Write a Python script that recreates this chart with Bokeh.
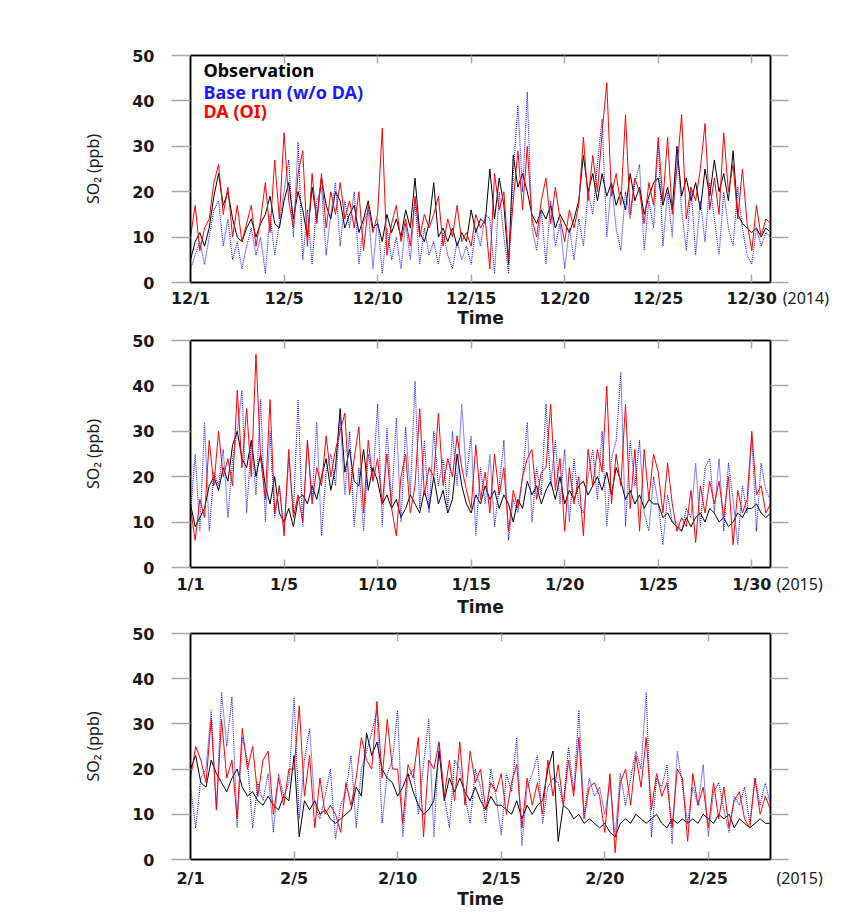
import numpy as np
from bokeh.plotting import figure
from bokeh.models import (Range1d, LinearAxis, FixedTicker, Label,
                          CustomLabelingPolicy)
from bokeh.layouts import column
from bokeh.embed import file_html
from bokeh.resources import INLINE

# ---------------- data (6-hourly samples) ----------------
SAMPLES_PER_DAY = 4

y_ticks = [0, 10, 20, 30, 40, 50]
y_title = "SO\u2082 (ppb)"

dec_days = 31
dec_ticks = [0, 5, 10, 15, 20, 25, 30]
dec_labels = ["12/1", "12/5", "12/10", "12/15", "12/20", "12/25", "12/30"]
dec_year = "(2014)"

jan_days = 31
jan_ticks = [0, 5, 10, 15, 20, 25, 30]
jan_labels = ["1/1", "1/5", "1/10", "1/15", "1/20", "1/25", "1/30"]
jan_year = "(2015)"

feb_days = 28
feb_ticks = [0, 5, 10, 15, 20, 25]
feb_labels = ["2/1", "2/5", "2/10", "2/15", "2/20", "2/25"]
feb_year = "(2015)"

legend_names = ["Observation", "Base run (w/o DA)", "DA (OI)"]

dec_obs = [
    5, 9, 11, 8, 12, 19, 24, 17, 20, 14, 10, 9, 12, 14, 10, 13,
    15, 19, 13, 12, 18, 22, 14, 20, 16, 10, 21, 14, 23, 17, 14, 20,
    18, 12, 15, 17, 11, 14, 18, 12, 13, 9, 15, 11, 14, 10, 16, 12,
    23, 11, 9, 13, 22, 10, 12, 9, 12, 8, 11, 9, 16, 11, 14, 13,
    25, 14, 23, 17, 4, 28, 21, 24, 20, 15, 13, 16, 14, 17, 12, 15,
    13, 11, 14, 18, 28, 20, 24, 18, 24, 19, 22, 17, 20, 16, 24, 18,
    21, 15, 19, 22, 23, 17, 21, 16, 30, 19, 23, 18, 22, 16, 25, 19,
    27, 20, 24, 18, 29, 15, 13, 12, 11, 12, 10, 12, 11]
dec_base = [
    3, 6, 9, 4, 10, 16, 18, 8, 14, 5, 9, 3, 8, 12, 6, 10,
    2, 15, 6, 13, 20, 27, 10, 31, 5, 16, 4, 18, 21, 6, 15, 22,
    8, 18, 12, 20, 4, 13, 16, 3, 14, 2, 12, 5, 10, 3, 13, 5,
    18, 4, 12, 6, 9, 4, 11, 6, 3, 9, 5, 8, 4, 12, 8, 15,
    14, 2, 20, 10, 2, 24, 39, 20, 42, 12, 7, 16, 4, 18, 8, 13,
    3, 12, 5, 14, 8, 20, 15, 26, 36, 10, 22, 12, 7, 20, 14, 22,
    26, 7, 18, 12, 31, 8, 20, 10, 30, 16, 7, 21, 6, 18, 9, 22,
    14, 6, 20, 12, 8, 21, 12, 6, 4, 12, 8, 11, 10]
dec_da = [
    10, 17, 7, 12, 14, 22, 26, 15, 21, 10, 17, 9, 13, 17, 8, 14,
    22, 11, 27, 14, 33, 18, 12, 24, 29, 8, 24, 13, 24, 12, 20, 15,
    22, 14, 18, 12, 20, 7, 17, 11, 15, 34, 6, 13, 17, 9, 14, 8,
    19, 10, 15, 12, 15, 19, 8, 14, 10, 17, 9, 11, 8, 15, 12, 14,
    3, 24, 16, 20, 5, 18, 29, 16, 30, 14, 10, 18, 23, 13, 21, 14,
    9, 16, 12, 17, 32, 18, 28, 20, 33, 44, 19, 24, 17, 37, 15, 23,
    20, 13, 22, 17, 32, 18, 32, 15, 25, 37, 14, 21, 18, 25, 35, 16,
    23, 15, 33, 20, 26, 14, 25, 13, 7, 17, 10, 14, 13]

jan_obs = [
    14, 9, 11, 13, 18, 20, 17, 22, 19, 27, 30, 24, 22, 28, 20, 25,
    18, 14, 20, 12, 10, 13, 9, 15, 16, 14, 18, 15, 20, 24, 17, 22,
    35, 21, 26, 19, 18, 26, 17, 22, 19, 14, 16, 13, 15, 11, 13, 16,
    14, 12, 17, 13, 20, 14, 17, 12, 15, 25, 18, 14, 12, 16, 14, 18,
    15, 17, 13, 16, 14, 10, 15, 13, 19, 16, 18, 14, 17, 19, 15, 20,
    14, 17, 15, 18, 19, 16, 18, 20, 17, 21, 16, 22, 19, 15, 17, 14,
    16, 13, 15, 14, 14, 11, 12, 10, 9, 8, 11, 9, 11, 12, 10, 13,
    12, 10, 11, 9, 10, 12, 11, 13, 13, 14, 12, 11, 12]
jan_base = [
    12, 25, 8, 32, 8, 21, 18, 26, 11, 24, 30, 39, 12, 28, 16, 37,
    10, 30, 11, 18, 8, 24, 12, 37, 9, 28, 15, 32, 7, 21, 25, 18,
    33, 16, 30, 9, 22, 8, 25, 19, 36, 9, 31, 14, 33, 10, 31, 16,
    41, 13, 28, 12, 30, 18, 24, 13, 30, 18, 36, 20, 29, 7, 22, 14,
    25, 9, 18, 28, 6, 15, 12, 20, 32, 10, 22, 16, 36, 18, 28, 14,
    26, 10, 24, 14, 12, 20, 26, 15, 30, 9, 24, 28, 43, 9, 28, 18,
    28, 12, 8, 20, 14, 5, 16, 10, 10, 8, 13, 11, 23, 9, 22, 24,
    12, 24, 8, 23, 15, 5, 18, 12, 29, 8, 23, 17, 15]
jan_da = [
    13, 6, 15, 11, 28, 18, 30, 20, 24, 18, 39, 22, 35, 20, 47, 24,
    15, 37, 12, 18, 7, 26, 11, 16, 10, 28, 14, 22, 18, 29, 20, 26,
    30, 34, 16, 24, 31, 12, 28, 19, 24, 14, 25, 13, 7, 20, 25, 12,
    18, 35, 16, 22, 20, 34, 18, 24, 20, 29, 22, 17, 13, 27, 15, 21,
    12, 25, 16, 22, 8, 17, 13, 20, 24, 26, 15, 21, 22, 36, 17, 24,
    8, 22, 14, 20, 7, 26, 18, 26, 21, 40, 14, 25, 18, 36, 13, 26,
    8, 26, 15, 25, 21, 12, 23, 14, 8, 11, 9, 17, 5.5, 18, 12, 19,
    14, 19, 11, 20, 5, 17, 12, 15, 30, 16, 18, 12, 14]

feb_obs = [
    20, 23, 17, 16, 22, 19, 17, 15, 18, 20, 16, 14, 15, 13, 12, 14,
    12, 11, 14, 13, 23, 5, 13, 11, 13, 10, 11, 9, 8, 9, 10, 11,
    16, 14, 28, 23, 26, 20, 18, 17, 14, 16, 19, 15, 12, 10, 11, 13,
    24, 13, 18, 15, 18, 15, 13, 16, 13, 11, 14, 12, 12, 11, 10, 13,
    9, 12, 10, 12, 13, 20, 24, 4, 12, 11, 9, 10, 8, 9, 8, 7,
    8, 6, 5, 8, 9, 8, 10, 9, 8, 9, 10, 8, 7, 9, 8, 9,
    8, 9, 8, 10, 9, 8, 10, 9, 10, 7, 9, 8, 7, 8, 9, 8, 8]
feb_base = [
    16, 7, 18, 20, 33, 11, 37, 25, 36, 7, 27, 22, 7, 17, 13, 19,
    6, 19, 14, 17, 36, 9, 22, 29, 12, 9, 14, 20, 4.5, 12, 15, 23,
    7, 20, 24, 28, 33, 8, 19, 22, 33, 5, 18, 20, 10, 21, 31, 5,
    26, 14, 7, 22, 20, 14, 8, 20, 16, 8, 20, 14, 5.4, 19, 15, 27,
    3, 16, 19, 23, 8, 16, 18, 17, 12, 25, 15, 33, 10, 18, 14, 16,
    10, 17, 5, 19, 12, 18, 24, 20, 37, 5, 18, 16, 21, 3.5, 24, 16,
    8, 16, 12, 21, 5, 15, 17, 11, 6, 14, 12, 16, 8, 18, 12, 17, 12]
feb_da = [
    18, 25, 22, 17, 31, 11, 31, 18, 22, 9, 29, 20, 25, 14, 22, 24,
    10, 18, 12, 20, 20, 34, 14, 23, 7, 18, 10, 12, 10, 6, 17, 12,
    18, 27, 22, 20, 35, 18, 31, 20, 20, 8, 21, 18, 27, 5, 22, 20,
    26, 14, 22, 13, 26, 12, 24, 17, 20, 11, 17, 15, 19, 10, 17, 21,
    7, 18, 12, 17, 10, 22, 14, 21, 12, 22, 14, 27, 9, 16, 17, 14,
    6, 19, 1.5, 17, 20, 12, 23, 16, 27, 11, 19, 14, 17, 7, 20, 18,
    4, 19, 12, 16, 7, 17, 9, 16, 7, 13, 15, 9, 7, 18, 10, 14, 11]

# ---------------- styling ----------------
FIG_W = 850
LEFT = 190
RIGHT = 80
TICK_GRAY = "#a8a8a8"
TXT = "#1a1a1a"
NBSP = "\u00a0"


def hidden_labels():
    return CustomLabelingPolicy(code="return []")


def make_panel(obs, base, da, ndays, ticks, labels, year, height, top, bottom,
               year_standoff, label_standoff, time_standoff, year_pad,
               legend=False):
    p = figure(width=FIG_W, height=height,
               x_range=Range1d(0, ndays), y_range=Range1d(0, 50),
               x_axis_location=None,
               output_backend="svg", toolbar_location=None,
               min_border_left=LEFT, min_border_right=RIGHT,
               min_border_top=top, min_border_bottom=bottom,
               background_fill_color="white", border_fill_color="white")
    p.xgrid.visible = False
    p.ygrid.visible = False
    p.outline_line_color = "black"
    p.outline_line_width = 1.5

    def xs(arr):
        return np.arange(len(arr)) / SAMPLES_PER_DAY

    p.line(xs(obs), obs, line_color="black", line_width=1)
    p.line(xs(base), base, line_color="#1a1aff", line_width=1.1, line_dash="1 1")
    p.line(xs(da), da, line_color="#ff0000", line_width=1)

    # 1) bottom frame line with inward ticks (no labels)
    fa = LinearAxis(ticker=FixedTicker(ticks=ticks),
                    major_label_policy=hidden_labels(), major_label_standoff=0,
                    major_label_text_font_size="0px",
                    major_tick_in=8, major_tick_out=0,
                    major_tick_line_color=TICK_GRAY, major_tick_line_width=1.5,
                    minor_tick_line_color=None,
                    axis_line_color="black", axis_line_width=1.5)
    p.add_layout(fa, "below")

    # 2) year text on the tick-label line, right of the frame
    ya2 = LinearAxis(ticker=FixedTicker(ticks=[ndays]),
                     major_label_overrides={ndays: NBSP * year_pad + year},
                     major_label_standoff=year_standoff,
                     major_tick_in=0, major_tick_out=0,
                     major_tick_line_color=None, minor_tick_line_color=None,
                     axis_line_color=None,
                     major_label_text_font="Noto Sans",
                     major_label_text_font_size="16px",
                     major_label_text_color=TXT)
    p.add_layout(ya2, "below")

    # 3) month tick labels + "Time" (pulled up onto the same line as the year)
    xa = LinearAxis(ticker=FixedTicker(ticks=ticks),
                    major_label_overrides={t: l for t, l in zip(ticks, labels)},
                    major_label_standoff=label_standoff,
                    major_tick_in=0, major_tick_out=0,
                    major_tick_line_color=None, minor_tick_line_color=None,
                    axis_line_color=None,
                    major_label_text_font="DejaVu Sans",
                    major_label_text_font_style="bold",
                    major_label_text_font_size="16px",
                    major_label_text_color=TXT,
                    axis_label="Time",
                    axis_label_text_font="DejaVu Sans",
                    axis_label_text_font_style="bold",
                    axis_label_text_font_size="17px",
                    axis_label_text_color=TXT,
                    axis_label_standoff=time_standoff)
    p.add_layout(xa, "below")

    # left axis
    ya = p.yaxis[0]
    ya.ticker = FixedTicker(ticks=y_ticks)
    ya.minor_tick_line_color = None
    ya.major_tick_in = 0
    ya.major_tick_out = 19
    ya.major_tick_line_color = TICK_GRAY
    ya.major_tick_line_width = 1.5
    ya.axis_line_color = "black"
    ya.axis_line_width = 1.5
    ya.major_label_standoff = 17
    ya.major_label_text_font = "DejaVu Sans"
    ya.major_label_text_font_style = "bold"
    ya.major_label_text_font_size = "16px"
    ya.major_label_text_color = TXT
    ya.axis_label = y_title
    ya.axis_label_text_font = "Noto Sans"
    ya.axis_label_text_font_style = "normal"
    ya.axis_label_text_font_size = "12pt"
    ya.axis_label_text_color = TXT
    ya.axis_label_standoff = 25

    # top axis (inward ticks, no labels)
    ta = LinearAxis(ticker=FixedTicker(ticks=ticks),
                    major_label_policy=hidden_labels(), major_label_standoff=0,
                    major_label_text_font_size="0px",
                    major_tick_in=8, major_tick_out=0,
                    major_tick_line_color=TICK_GRAY, major_tick_line_width=1.5,
                    minor_tick_line_color=None,
                    axis_line_color="black", axis_line_width=1.5)
    p.add_layout(ta, "above")

    # right axis (outward gray ticks, no labels)
    ra = LinearAxis(ticker=FixedTicker(ticks=y_ticks),
                    major_label_policy=hidden_labels(), major_label_standoff=0,
                    major_label_text_font_size="0px",
                    major_tick_in=0, major_tick_out=18,
                    major_tick_line_color=TICK_GRAY, major_tick_line_width=1.5,
                    minor_tick_line_color=None,
                    axis_line_color="black", axis_line_width=1.5)
    p.add_layout(ra, "right")

    if legend:
        colors = ["black", "#1a1aff", "#ff0000"]
        ys = [46.8, 42.0, 37.7]
        for name, c, yy in zip(legend_names, colors, ys):
            p.add_layout(Label(x=0, y=yy, x_offset=13, x_units="data", y_units="data",
                               text=name, text_align="left", text_baseline="middle",
                               text_font="Noto Sans", text_font_style="bold",
                               text_font_size="18px", text_color=c))
    return p


p1 = make_panel(dec_obs, dec_base, dec_da, dec_days, dec_ticks, dec_labels, dec_year,
                height=330, top=55, bottom=48,
                year_standoff=4, label_standoff=-23, time_standoff=-3,
                year_pad=17, legend=True)
p2 = make_panel(jan_obs, jan_base, jan_da, jan_days, jan_ticks, jan_labels, jan_year,
                height=290, top=10, bottom=53,
                year_standoff=5, label_standoff=-23, time_standoff=0,
                year_pad=14)
p3 = make_panel(feb_obs, feb_base, feb_da, feb_days, feb_ticks, feb_labels, feb_year,
                height=291, top=13, bottom=52,
                year_standoff=7, label_standoff=-23, time_standoff=-2,
                year_pad=14)

layout = column(p1, p2, p3, spacing=0)
open("out.html", "w").write(file_html(layout, INLINE))
